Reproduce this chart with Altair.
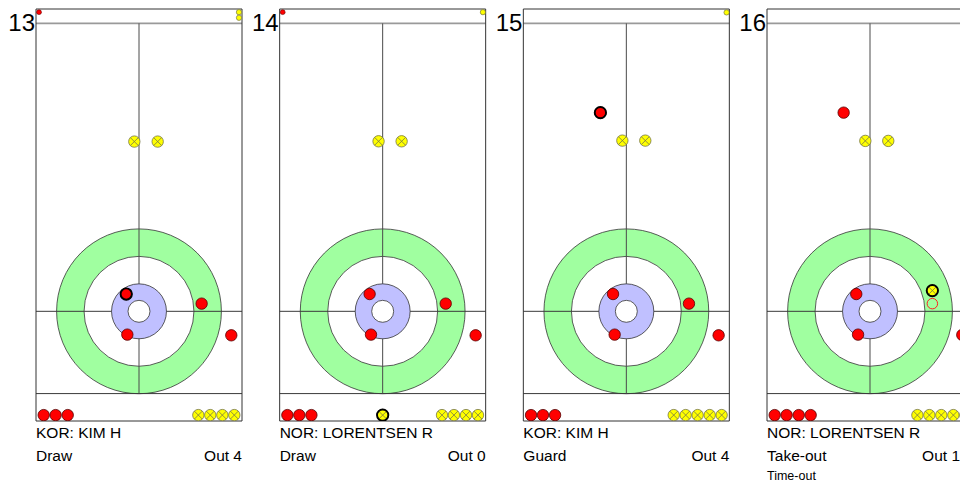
import math
import altair as alt
import pandas as pd

FONT = "Liberation Sans"

# ---------------- shot information ----------------
SHOT_NUMBERS = [13, 14, 15, 16]
PLAYERS = ["KOR: KIM H", "NOR: LORENTSEN R", "KOR: KIM H", "NOR: LORENTSEN R"]
SHOT_TYPES = ["Draw", "Draw", "Guard", "Take-out"]
OUT_LABELS = ["Out 4", "Out 0", "Out 4", "Out 1"]
NOTES = ["", "", "", "Time-out"]

# ---------------- sheet geometry (feet, tee = origin) ----------------
SHEET_X = [-7.5, 7.5]
SHEET_Y = [-8.0, 22.05]
HOG_LINE = 21.0
TEE_LINE = 0.0
BACK_LINE = -6.0
RING_RADII = [6.0, 4.0, 2.0, 0.8]
RING_FILLS = ["#a0ffa0", "#ffffff", "#c0c0ff", "#ffffff"]
VISIBLE_RIGHT = [7.5, 7.5, 7.5, 6.62]   # the last sheet is cut by the page edge

# ---------------- stones in play ----------------
PLAY_SHOT = [13, 13, 13, 13, 13, 13,
             14, 14, 14, 14, 14, 14,
             15, 15, 15, 15, 15, 15, 15,
             16, 16, 16, 16, 16, 16, 16]
PLAY_TEAM = ["red", "red", "red", "red", "yellow", "yellow",
             "red", "red", "red", "red", "yellow", "yellow",
             "red", "red", "red", "red", "red", "yellow", "yellow",
             "red", "red", "red", "red", "yellow", "yellow", "yellow"]
PLAY_X = [-0.93, 4.56, -0.85, 6.72, -0.34, 1.36,
          -0.95, 4.59, -0.85, 6.77, -0.30, 1.38,
          -0.97, 4.56, -0.85, 6.72, -1.89, -0.29, 1.38,
          -1.00, -0.87, 6.72, -1.92, 4.54, -0.34, 1.33]
PLAY_Y = [1.26, 0.56, -1.70, -1.75, 12.38, 12.38,
          1.26, 0.56, -1.70, -1.75, 12.40, 12.40,
          1.26, 0.56, -1.70, -1.75, 14.49, 12.45, 12.45,
          1.26, -1.70, -1.72, 14.49, 1.51, 12.43, 12.43]
PLAY_THROWN = [1, 0, 0, 0, 0, 0,
               0, 0, 0, 0, 0, 0,
               0, 0, 0, 0, 1, 0, 0,
               0, 0, 0, 0, 1, 0, 0]

# stone knocked out by the take-out (former position)
REMOVED_SHOT = [16]
REMOVED_TEAM = ["red"]
REMOVED_X = [4.54]
REMOVED_Y = [0.56]

# ---------------- stones out of play (row behind the back line) ----------------
OUT_ROW_Y = -7.57
OUT_SHOT = [13, 13, 13, 13, 13, 13, 13,
            14, 14, 14, 14, 14, 14, 14, 14,
            15, 15, 15, 15, 15, 15, 15, 15,
            16, 16, 16, 16, 16, 16, 16, 16, 16]
OUT_TEAM = ["red", "red", "red", "yellow", "yellow", "yellow", "yellow",
            "red", "red", "red", "yellow", "yellow", "yellow", "yellow", "yellow",
            "red", "red", "red", "yellow", "yellow", "yellow", "yellow", "yellow",
            "red", "red", "red", "red", "yellow", "yellow", "yellow", "yellow", "yellow"]
OUT_X = [-6.94, -6.07, -5.19, 4.32, 5.19, 6.07, 6.94,
         -6.94, -6.07, -5.19, 4.32, 5.19, 6.07, 6.94, 0.0,
         -6.94, -6.07, -5.19, 3.45, 4.32, 5.19, 6.07, 6.94,
         -6.94, -6.07, -5.19, -4.32, 3.45, 4.32, 5.19, 6.07, 6.94]
OUT_THROWN = [0, 0, 0, 0, 0, 0, 0,
              0, 0, 0, 0, 0, 0, 0, 1,
              0, 0, 0, 0, 0, 0, 0, 0,
              0, 0, 0, 0, 0, 0, 0, 0, 0]

# ---------------- stones still to be thrown (top band) ----------------
WAIT_SHOT = [13, 13, 13, 14, 14, 15]
WAIT_TEAM = ["red", "yellow", "yellow", "red", "yellow", "yellow"]
WAIT_X = [-7.28, 7.28, 7.28, -7.28, 7.30, 7.30]
WAIT_Y = [21.82, 21.82, 21.41, 21.82, 21.82, 21.80]

# ---------------- tables ----------------
info = pd.DataFrame({"shot": SHOT_NUMBERS, "player": PLAYERS, "stype": SHOT_TYPES,
                     "out": OUT_LABELS, "note": NOTES})
info["num"] = info["shot"].astype(str)

play = pd.DataFrame({"shot": PLAY_SHOT, "team": PLAY_TEAM, "x": PLAY_X, "y": PLAY_Y,
                     "thrown": PLAY_THROWN})
out = pd.DataFrame({"shot": OUT_SHOT, "team": OUT_TEAM, "x": OUT_X,
                    "y": [OUT_ROW_Y] * len(OUT_X), "thrown": OUT_THROWN})
stones = pd.concat([play, out], ignore_index=True)
waiting = pd.DataFrame({"shot": WAIT_SHOT, "team": WAIT_TEAM, "x": WAIT_X, "y": WAIT_Y})
removed = pd.DataFrame({"shot": REMOVED_SHOT, "team": REMOVED_TEAM, "x": REMOVED_X,
                        "y": REMOVED_Y})

PX = 206 / 15.0          # pixels per foot
SHEET_H = 412
YELLOW_SHAPE = ("M-1,0A1,1,0,1,1,1,0A1,1,0,1,1,-1,0Z"
                "M-0.7,-0.7L0.7,0.7M-0.7,0.7L0.7,-0.7")


def panel(i):
    shot = SHOT_NUMBERS[i]
    x_right = VISIBLE_RIGHT[i]
    width = int((x_right - SHEET_X[0]) * PX)
    xs = alt.Scale(domain=[SHEET_X[0], SHEET_X[0] + width / PX], nice=False, zero=False)
    ys = alt.Scale(domain=SHEET_Y, nice=False, zero=False)
    X = alt.X("x:Q", scale=xs, axis=None)
    Y = alt.Y("y:Q", scale=ys, axis=None)
    sel = alt.datum.shot == shot

    # rings (Vega symbol size = (2 * radius_px) ** 2)
    ring_df = pd.DataFrame({"x": [0.0] * len(RING_RADII), "y": [0.0] * len(RING_RADII),
                            "r": RING_RADII, "fill": RING_FILLS})
    ring_df["area"] = ring_df["r"] ** 2
    size = alt.Size("area:Q", legend=None,
                    scale=alt.Scale(domain=[0, 36], range=[0, 4 * (6 * PX) ** 2]))
    ring_base = alt.Chart(ring_df).mark_point(
        shape="circle", filled=True, opacity=1, stroke="#333333", strokeWidth=0.8, clip=True
    ).encode(x=X, y=Y, size=size, fill=alt.Fill("fill:N", scale=None),
             order=alt.Order("r:Q", sort="descending"))
    outer = ring_base.transform_filter("datum.r >= 4")
    inner = ring_base.transform_filter("datum.r < 4")

    # sheet lines
    xr = min(SHEET_X[1], SHEET_X[0] + width / PX)
    lines = pd.DataFrame({
        "x": [SHEET_X[0], SHEET_X[0], SHEET_X[0], 0.0],
        "x2": [xr, xr, xr, 0.0],
        "y": [HOG_LINE, TEE_LINE, BACK_LINE, BACK_LINE],
        "y2": [HOG_LINE, TEE_LINE, BACK_LINE, HOG_LINE],
        "color": ["#9a9a9a", "#3a3a3a", "#3a3a3a", "#4a4a4a"],
        "w": [1.6, 1.0, 1.0, 1.0]})
    bx = [SHEET_X[0], SHEET_X[0], SHEET_X[0]]
    bx2 = [SHEET_X[0], xr, xr]
    by = [SHEET_Y[0], SHEET_Y[1], SHEET_Y[0]]
    by2 = [SHEET_Y[1], SHEET_Y[1], SHEET_Y[0]]
    if x_right >= SHEET_X[1]:
        bx.append(SHEET_X[1]); bx2.append(SHEET_X[1])
        by.append(SHEET_Y[0]); by2.append(SHEET_Y[1])
    border = pd.DataFrame({"x": bx, "x2": bx2, "y": by, "y2": by2,
                           "color": ["#333333"] * len(bx), "w": [1.0] * len(bx)})
    rule_enc = dict(x=X, x2="x2:Q", y=Y, y2="y2:Q",
                    color=alt.Color("color:N", scale=None),
                    strokeWidth=alt.StrokeWidth("w:Q", scale=None))
    line_layer = alt.Chart(lines).mark_rule().encode(**rule_enc)
    border_layer = alt.Chart(border).mark_rule().encode(**rule_enc)

    st = alt.Chart(stones).transform_filter(sel)
    red = st.transform_filter(alt.datum.team == "red").mark_point(
        shape="circle", filled=True, color="#ff0000", stroke="#550000", strokeWidth=0.8,
        size=130, opacity=1, clip=True
    ).encode(x=X, y=Y)
    yellow = st.transform_filter(alt.datum.team == "yellow").mark_point(
        shape=YELLOW_SHAPE, filled=True, color="#ffff00", stroke="#76764a", strokeWidth=0.8,
        size=130, opacity=1, clip=True
    ).encode(x=X, y=Y)
    thrown = st.transform_filter(alt.datum.thrown == 1).mark_point(
        shape="circle", filled=False, color="#000000", strokeWidth=1.9, size=128, opacity=1,
        clip=True
    ).encode(x=X, y=Y)

    wt = alt.Chart(waiting).transform_filter(sel)
    wait_red = wt.transform_filter(alt.datum.team == "red").mark_point(
        shape="circle", filled=True, color="#ff0000", stroke="#660000", strokeWidth=0.6,
        size=24, opacity=1, clip=True
    ).encode(x=X, y=Y)
    wait_yel = wt.transform_filter(alt.datum.team == "yellow").mark_point(
        shape="circle", filled=True, color="#ffff00", stroke="#76764a", strokeWidth=0.7,
        size=28, opacity=1, clip=True
    ).encode(x=X, y=Y)

    rem = alt.Chart(removed).transform_filter(sel).mark_point(
        shape="circle", filled=False, color="#ff2020", strokeWidth=1.0, size=110, opacity=1,
        clip=True
    ).encode(x=X, y=Y)

    it = alt.Chart(info).transform_filter(sel)
    num = it.mark_text(align="right", baseline="alphabetic", fontSize=24, font=FONT,
                       color="#000000").encode(x=alt.value(-1), y=alt.value(21.5), text="num:N")
    player = it.mark_text(align="left", baseline="alphabetic", fontSize=15.5, font=FONT,
                          color="#000000").encode(x=alt.value(0), y=alt.value(429),
                                                  text="player:N")
    stype = it.mark_text(align="left", baseline="alphabetic", fontSize=15.5, font=FONT,
                         color="#000000").encode(x=alt.value(0), y=alt.value(452),
                                                 text="stype:N")
    outl = it.mark_text(align="right", baseline="alphabetic", fontSize=15.5, font=FONT,
                        color="#000000").encode(x=alt.value(width), y=alt.value(452),
                                                text="out:N")
    note = it.mark_text(align="left", baseline="alphabetic", fontSize=12.5, font=FONT,
                        color="#000000").encode(x=alt.value(0), y=alt.value(470.5),
                                                text="note:N")

    return alt.layer(outer, line_layer, inner, border_layer,
                     red, yellow, thrown, wait_red, wait_yel, rem,
                     num, player, stype, outl, note).properties(width=width, height=SHEET_H)


chart = alt.hconcat(*[panel(i) for i in range(len(SHOT_NUMBERS))],
                    spacing=37.67, bounds="flush").properties(
    padding=0, background="#ffffff"
).configure_view(stroke=None)

chart.save("out.html", embed_options={"renderer": "svg", "actions": False})
